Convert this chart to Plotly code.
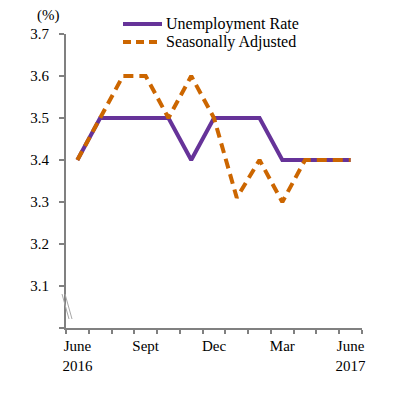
import plotly.graph_objects as go

months = ["Jun 2016", "Jul", "Aug", "Sep", "Oct", "Nov", "Dec",
          "Jan 2017", "Feb", "Mar", "Apr", "May", "Jun 2017"]
unemployment = [3.4, 3.5, 3.5, 3.5, 3.5, 3.4, 3.5, 3.5, 3.5, 3.4, 3.4, 3.4, 3.4]
seasonal = [3.4, 3.5, 3.6, 3.6, 3.5, 3.6, 3.5, 3.31, 3.4, 3.3, 3.4, 3.4, 3.4]
series_names = ["Unemployment Rate", "Seasonally Adjusted"]
tick_pos = [0, 3, 6, 9, 12]
tick_text = ["June<br>2016", "Sept", "Dec", "Mar", "June<br>2017"]
y_ticks = [3.0, 3.1, 3.2, 3.3, 3.4, 3.5, 3.6, 3.7]
y_text = ["", "3.1", "3.2", "3.3", "3.4", "3.5", "3.6", "3.7"]

x = list(range(len(months)))
FONT = "Liberation Serif"
GRAY = "#808080"
PURPLE = "#663399"
ORANGE = "#CC6600"
DASH = "10px,6px"

OFF = 8  # default page body margin
W, H = 401 - OFF, 394 - OFF
# target plot area in page pixels: x 66..362, y 34..328
L, T = 66 - OFF, 34 - OFF
R, B = W - (362 - OFF), H - (328 - OFF)
PW, PH = W - L - R, H - T - B


def px(xp):
    return (xp - OFF - L) / PW


def py(yp):
    return (H - B - (yp - OFF)) / PH


fig = go.Figure()
fig.add_trace(go.Scatter(x=x, y=unemployment, mode="lines", name=series_names[0],
                         line=dict(color=PURPLE, width=4), text=months, showlegend=False))
fig.add_trace(go.Scatter(x=x, y=seasonal, mode="lines", name=series_names[1],
                         line=dict(color=ORANGE, width=4, dash=DASH), text=months, showlegend=False))

fig.update_layout(
    width=W, height=H,
    margin=dict(l=L, r=R, t=T, b=B, autoexpand=False),
    paper_bgcolor="white", plot_bgcolor="white",
    font=dict(family=FONT, size=15, color="black"),
    showlegend=False,
    xaxis=dict(range=[-0.5, 12.5], showgrid=False, zeroline=False, automargin=False,
               showline=True, linecolor=GRAY, linewidth=2,
               tickmode="array", tickvals=tick_pos, ticktext=tick_text, ticks="",
               ticklabelstandoff=3,
               minor=dict(tickmode="array", tickvals=[i - 0.5 for i in range(len(months) + 1)],
                          ticks="outside", ticklen=4, tickwidth=2, tickcolor=GRAY, showgrid=False),
               tickfont=dict(size=15, family=FONT), fixedrange=True),
    yaxis=dict(range=[3.0, 3.7], showgrid=False, zeroline=False, automargin=False,
               showline=True, linecolor=GRAY, linewidth=2,
               tickmode="array", tickvals=y_ticks, ticktext=y_text,
               ticks="outside", ticklen=5, tickwidth=2, tickcolor=GRAY,
               ticklabelstandoff=7,
               tickfont=dict(size=15, family=FONT), fixedrange=True),
)

fig.add_annotation(text="(%)", xref="paper", yref="paper", x=px(48), y=py(15),
                   xanchor="center", yanchor="middle", showarrow=False,
                   font=dict(size=15, family=FONT))

# custom legend
for i, (name, color, dash) in enumerate([(series_names[0], PURPLE, "solid"),
                                         (series_names[1], ORANGE, "8px,5px")]):
    yy = py(24 + 18 * i)
    fig.add_shape(type="line", xref="paper", yref="paper", x0=px(123), x1=px(162),
                  y0=yy, y1=yy, line=dict(color=color, width=4, dash=dash))
    fig.add_annotation(text=name, xref="paper", yref="paper", x=px(164), y=yy,
                       xanchor="left", yanchor="middle", showarrow=False,
                       font=dict(size=16, family=FONT))

# axis break marks
for dx in (0, 3):
    fig.add_shape(type="line", xref="paper", yref="paper",
                  x0=px(62 + dx), x1=px(69 + dx), y0=py(294), y1=py(319),
                  line=dict(color="#A8A8A8", width=1))

fig.write_html("out.html")
